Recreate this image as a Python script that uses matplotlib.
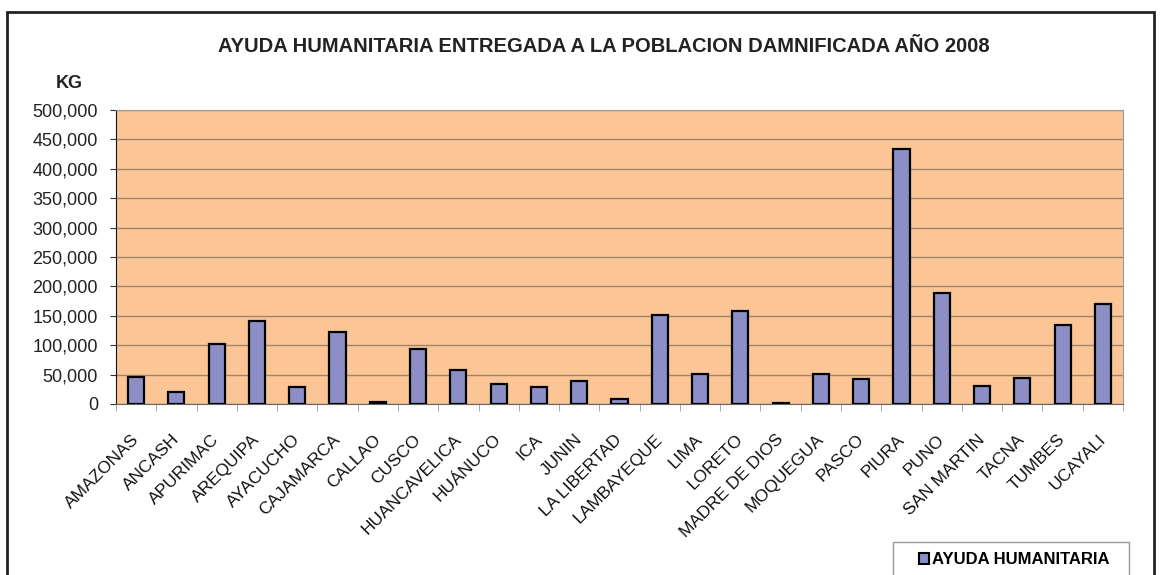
import matplotlib.pyplot as plt
import matplotlib.patches as patches
import matplotlib.transforms as mtransforms
import numpy as np
from matplotlib.ticker import FuncFormatter, FixedLocator

regiones = ['AMAZONAS', 'ANCASH', 'APURIMAC', 'AREQUIPA', 'AYACUCHO', 'CAJAMARCA',
            'CALLAO', 'CUSCO', 'HUANCAVELICA', 'HUÁNUCO', 'ICA', 'JUNIN',
            'LA LIBERTAD', 'LAMBAYEQUE', 'LIMA', 'LORETO', 'MADRE DE DIOS',
            'MOQUEGUA', 'PASCO', 'PIURA', 'PUNO', 'SAN MARTIN', 'TACNA',
            'TUMBES', 'UCAYALI']
ayuda_kg = [46000, 20000, 102000, 142000, 29500, 122000,
            4000, 93000, 58000, 34000, 28500, 39500,
            9000, 151000, 51000, 157500, 1500,
            51000, 42000, 434000, 189000, 30500, 45000,
            134000, 169500]
yticks = list(range(0, 500001, 50000))

plt.rcParams['font.family'] = ['Liberation Sans', 'DejaVu Sans']

fig = plt.figure(figsize=(11.61, 5.75), dpi=100)
ax = fig.add_axes([116 / 1161, 1 - 404 / 575, (1123 - 116) / 1161, (404 - 110) / 575])

# marco exterior del grafico
fig.patches.append(patches.Rectangle((7 / 1161, -0.1), (1154 - 7) / 1161, 1.1 - 12 / 575,
                                     transform=fig.transFigure, fill=False,
                                     edgecolor='#222222', linewidth=2))
# marco de la leyenda
fig.patches.append(patches.Rectangle((893 / 1161, -0.05), (1129 - 893) / 1161, 0.05 + 33 / 575,
                                     transform=fig.transFigure, fill=False,
                                     edgecolor='#999999', linewidth=1))

x = np.arange(len(regiones))
ax.set_facecolor('#FBC596')
ax.bar(x, ayuda_kg, width=0.4, color='#8C8FC6', edgecolor='black', linewidth=1.6,
       zorder=3, label='AYUDA HUMANITARIA')

ax.set_xlim(-0.5, len(regiones) - 0.5)
ax.set_ylim(0, 500000)
ax.set_yticks(yticks)
ax.yaxis.set_major_formatter(FuncFormatter(lambda v, p: f'{int(v):,}'))
ax.grid(axis='y', color='#A08468', linewidth=1, zorder=1)
ax.set_axisbelow(True)

ax.set_xticks(x)
ax.set_xticklabels(regiones, rotation=45, ha='right', va='top', rotation_mode='anchor',
                   fontsize=12.5, color='#111111')
ax.tick_params(axis='x', length=0, pad=20)
shift = mtransforms.ScaledTranslation(-5 / 100, 0, fig.dpi_scale_trans)
for lbl in ax.get_xticklabels():
    lbl.set_transform(lbl.get_transform() + shift)
ax.xaxis.set_minor_locator(FixedLocator(np.arange(-0.5, len(regiones), 1)))
ax.tick_params(axis='x', which='minor', length=5, color='#999999')
ax.tick_params(axis='y', length=4, pad=9, labelsize=13, color='#333333', labelcolor='#222222')

for s in ['top', 'right']:
    ax.spines[s].set_color('#999999')
ax.spines['left'].set_color('#111111')
ax.spines['bottom'].set_color('#666666')

fig.text(604 / 1161, 1 - 46 / 575, 'AYUDA HUMANITARIA ENTREGADA A LA POBLACION DAMNIFICADA AÑO 2008',
         ha='center', va='center', fontsize=14.5, fontweight='bold', color='#222222')
fig.text(69 / 1161, 1 - 83 / 575, 'KG', ha='center', va='center', fontsize=13,
         fontweight='bold', color='#222222')

# leyenda: cuadro pequeno + texto
handle = patches.Rectangle((0, 0), 1, 1, facecolor='#8C8FC6', edgecolor='black', linewidth=1.5)
fig.legend([handle], ['AYUDA HUMANITARIA'], loc='center left',
           bbox_to_anchor=(917 / 1161, 1 - 560 / 575), frameon=False,
           handlelength=0.6, handleheight=0.6, handletextpad=0.2, borderpad=0.1,
           borderaxespad=0, prop={'weight': 'bold', 'size': 12})

fig.savefig('out.png', dpi=100)
